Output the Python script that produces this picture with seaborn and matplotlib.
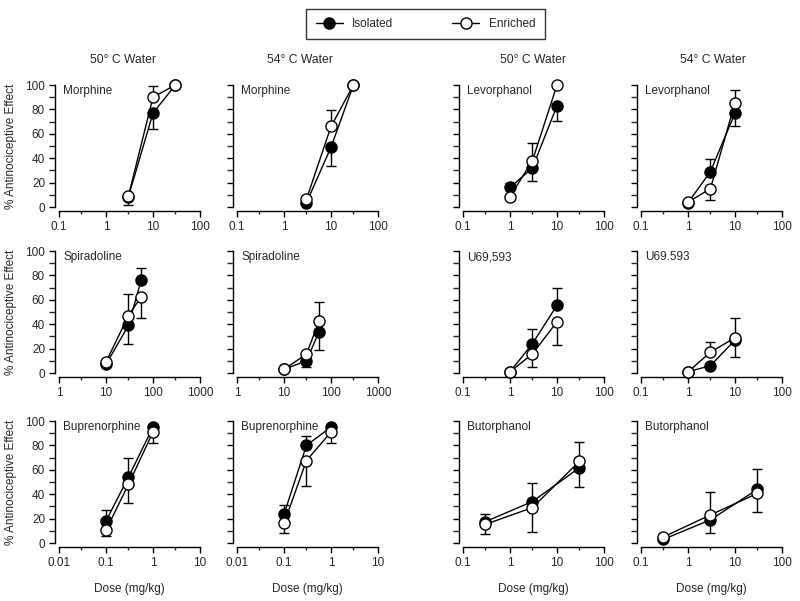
import numpy as np
import pandas as pd
import seaborn as sns
import matplotlib.pyplot as plt
from matplotlib.lines import Line2D
from matplotlib.ticker import FixedLocator, FuncFormatter, MultipleLocator

# panel order: row by row, left to right
drugs = ["Morphine", "Morphine", "Levorphanol", "Levorphanol",
         "Spiradoline", "Spiradoline", "U69,593", "U69.593",
         "Buprenorphine", "Buprenorphine", "Butorphanol", "Butorphanol"]
temps = ["50° C Water", "54° C Water", "50° C Water", "54° C Water"]
doses = [[3, 10, 30], [3, 10, 30], [1, 3, 10], [1, 3, 10],
         [10, 30, 56], [10, 30, 56], [1, 3, 10], [1, 3, 10],
         [0.1, 0.3, 1], [0.1, 0.3, 1], [0.3, 3, 30], [0.3, 3, 30]]
xlims = [(0.1, 100), (0.1, 100), (0.1, 100), (0.1, 100),
         (1, 1000), (1, 1000), (0.1, 100), (0.1, 100),
         (0.01, 10), (0.01, 10), (0.1, 100), (0.1, 100)]

isolated = [[8.5, 77, 100], [3.5, 49, 100], [16, 32, 83], [3.5, 29, 77],
            [7, 39, 76], [3, 10, 34], [1, 24, 55.5], [1, 6, 27],
            [18, 54, 95], [23.5, 80, 95], [17.5, 34, 61.7], [3, 19, 44]]
# signed SEM: positive -> bar drawn upward, negative -> downward
isolated_err = [[-6.5, -13, 0], [0, -15, 0], [4, -10.5, -12.5], [0, 10, -11],
                [0, -15, 10], [0, -5, -15], [0, 12, 14.5], [0, 0, -13.6],
                [9, 16, 0], [7.5, 7.7, 2], [6.5, 15, -15.7], [0, -10.5, 16.7]]
enriched = [[9, 90, 100], [6.3, 66, 100], [8.5, 38, 100], [4, 15, 85.5],
            [9, 47, 62.5], [3, 15.5, 42.6], [1, 15.6, 42], [1, 17, 29],
            [10.6, 48, 91], [16, 67.5, 91], [15.3, 29, 67], [5, 23, 40.7]]
enriched_err = [[0, 9.5, 0], [0, 13.5, 0], [0, 14.7, 0], [0, -9, 10.5],
                [0, 18, -17.5], [0, 0, 15.4], [0, -10.6, -19], [0, 8.4, 16],
                [-5, -15, -9.3], [-7.5, -20.8, -9.3], [-8.3, -20, 16], [0, 19, -15]]

W, H = 800, 601
col_left = [59, 237, 463, 641]
col_w = 141
title_x = [123, 300, 533, 713]
row_bottom = [207, 373, 543]   # pixel y of 0 %
row_h = 122

sns.set_style("ticks")
plt.rcParams['font.family'] = ['Liberation Sans', 'DejaVu Sans']
plt.rcParams['font.size'] = 8.5

fig = plt.figure(figsize=(W / 100, H / 100), dpi=100)

fs = 8.5
for i in range(12):
    r, c = divmod(i, 4)
    ax = fig.add_axes([col_left[c] / W, 1 - row_bottom[r] / H, col_w / W, row_h / H])
    ax.set_xscale('log')

    df = pd.DataFrame({'dose': doses[i] * 2,
                       'effect': isolated[i] + enriched[i],
                       'err': isolated_err[i] + enriched_err[i],
                       'group': ['Isolated'] * 3 + ['Enriched'] * 3})

    for g, face, z in [('Isolated', 'black', 3), ('Enriched', 'white', 4)]:
        d = df[df['group'] == g]
        lo = np.where(d['err'] < 0, -d['err'], 0)
        hi = np.where(d['err'] > 0, d['err'], 0)
        ax.errorbar(d['dose'], d['effect'], yerr=[lo, hi], fmt='none',
                    ecolor='black', elinewidth=1.0, capsize=3.5, capthick=1.0,
                    clip_on=False, zorder=z - 1)
        sns.lineplot(data=d, x='dose', y='effect', ax=ax, color='black',
                     linewidth=1.0, marker='o', markersize=8,
                     markerfacecolor=face, markeredgecolor='black',
                     markeredgewidth=1.0, errorbar=None, clip_on=False, zorder=z)

    ax.set_xlim(*xlims[i])
    ax.set_ylim(0, 100)
    lo_dec, hi_dec = int(round(np.log10(xlims[i][0]))), int(round(np.log10(xlims[i][1])))
    majors = [10.0 ** k for k in range(lo_dec, hi_dec + 1)]
    minors = [3 * 10.0 ** k for k in range(lo_dec, hi_dec)]
    ax.xaxis.set_major_locator(FixedLocator(majors))
    ax.xaxis.set_minor_locator(FixedLocator(minors))
    ax.xaxis.set_major_formatter(FuncFormatter(lambda v, p: '%g' % v))
    ax.xaxis.set_minor_formatter(FuncFormatter(lambda v, p: ''))
    ax.yaxis.set_major_locator(MultipleLocator(20))
    ax.yaxis.set_minor_locator(MultipleLocator(10))
    ax.tick_params(axis='both', which='major', direction='out', length=4,
                   width=1.0, labelsize=fs, pad=3, color='black')
    ax.tick_params(axis='x', which='minor', direction='out', length=2.5, width=1.0)
    ax.tick_params(axis='y', which='minor', direction='out', length=4, width=1.0)
    if c != 0:
        ax.set_yticklabels([])
    sns.despine(ax=ax, offset=3)
    for s in ['left', 'bottom']:
        ax.spines[s].set_linewidth(1.0)
        ax.spines[s].set_color('black')
    ax.set_xlabel('Dose (mg/kg)' if r == 2 else '', fontsize=fs, labelpad=10)
    ax.set_ylabel('% Antinociceptive Effect' if c == 0 else '', fontsize=fs, labelpad=6)
    ax.text(0.03, 0.95, drugs[i], transform=ax.transAxes, ha='left', va='center',
            fontsize=fs)
    if r == 0:
        fig.text(title_x[c] / W, 1 - 60 / H, temps[c], ha='center', va='center',
                 fontsize=8.7)

handles = [Line2D([], [], color='black', lw=1.0, marker='o', markersize=8,
                  markerfacecolor=f, markeredgecolor='black') for f in ['black', 'white']]
leg = fig.legend(handles, ['Isolated', 'Enriched'], loc='center',
                 bbox_to_anchor=(425.5 / W, 1 - 24 / H), ncol=2, fontsize=fs,
                 frameon=True, fancybox=False, edgecolor='black',
                 handlelength=2.3, columnspacing=5.0, borderpad=0.8)
leg.get_frame().set_linewidth(1.0)

fig.savefig('out.png', dpi=100)
